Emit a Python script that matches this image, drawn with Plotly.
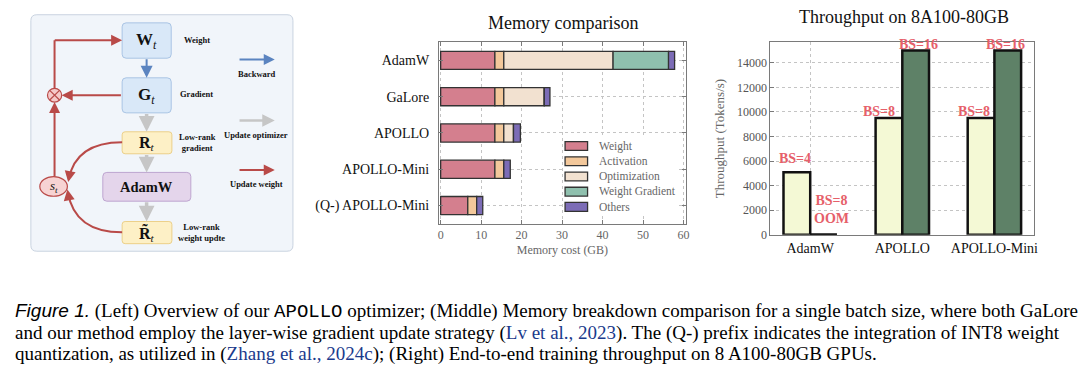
import numpy as np
import plotly.graph_objects as go

W, H = 1079, 375

# ---------------- data ----------------
methods = ["AdamW", "GaLore", "APOLLO", "APOLLO-Mini", "(Q-) APOLLO-Mini"]
mem_components = ["Weight", "Activation", "Optimization", "Weight Gradient", "Others"]
weight_gb = [13.4, 13.4, 13.4, 13.4, 6.7]
activation_gb = [2.2, 2.2, 2.2, 2.2, 2.2]
optimization_gb = [27.0, 10.0, 2.4, 0.0, 0.0]
weight_grad_gb = [13.7, 0.0, 0.0, 0.0, 0.0]
others_gb = [1.5, 1.4, 1.7, 1.6, 1.5]
mem_ticks = [0, 10, 20, 30, 40, 50, 60]

tp_methods = ["AdamW", "APOLLO", "APOLLO-Mini"]
tp_small_bs = [5100, 9500, 9500]
tp_large_bs = [0, 15000, 15000]
small_bs_labels = ["BS=4", "BS=8", "BS=8"]
large_bs_labels = ["BS=8<br>OOM", "BS=16", "BS=16"]
tp_ticks = [0, 2000, 4000, 6000, 8000, 10000, 12000, 14000]

# ---------------- styles ----------------
SERIF = "Liberation Serif"
mem_colors = ["#d47f8e", "#f3c89b", "#f2e1d0", "#8fc0ae", "#7c6cb6"]
RED = "#b94a48"
BLUE = "#5b84c0"
GRAY = "#c6c6c6"
LABEL_RED = "#e6606a"
LINK = "#1a3a8c"

shapes, annos = [], []


def px(x):
    return x / W


def py(y):
    return 1 - y / H


def rrect(x0, y0, x1, y1, r, fill, line, lw=1.0):
    p = (f"M{px(x0+r)},{py(y0)} L{px(x1-r)},{py(y0)} Q{px(x1)},{py(y0)} {px(x1)},{py(y0+r)} "
         f"L{px(x1)},{py(y1-r)} Q{px(x1)},{py(y1)} {px(x1-r)},{py(y1)} "
         f"L{px(x0+r)},{py(y1)} Q{px(x0)},{py(y1)} {px(x0)},{py(y1-r)} "
         f"L{px(x0)},{py(y0+r)} Q{px(x0)},{py(y0)} {px(x0+r)},{py(y0)} Z")
    shapes.append(dict(type="path", xref="paper", yref="paper", path=p,
                       fillcolor=fill, line=dict(color=line, width=lw)))


def seg(x0, y0, x1, y1, color, width):
    shapes.append(dict(type="line", xref="paper", yref="paper", x0=px(x0), y0=py(y0),
                       x1=px(x1), y1=py(y1), line=dict(color=color, width=width)))


def arrow(x0, y0, x1, y1, color, width=2.0, size=1.0, head=2):
    annos.append(dict(x=px(x1), y=py(y1), xref="paper", yref="paper", ax=x0 - x1, ay=y0 - y1,
                      axref="pixel", ayref="pixel", text="", showarrow=True, arrowhead=head,
                      arrowsize=size, arrowwidth=width, arrowcolor=color, standoff=0,
                      startstandoff=0))


def label(x, y, text, size, color="#111", family=SERIF, xanchor="center"):
    annos.append(dict(x=px(x), y=py(y), xref="paper", yref="paper", text=text, showarrow=False,
                      xanchor=xanchor, yanchor="middle", font=dict(size=size, color=color, family=family)))


# ---------------- left diagram ----------------
rrect(30, 15, 293.3, 256, 6, "#f1f5fa", "#c9d3e0", 1)
rrect(121.7, 23.3, 171, 59.3, 4, "#d9e8f8", "#a9c4e4")
rrect(121.7, 79.3, 171, 115, 4, "#d9e8f8", "#a9c4e4")
rrect(121.7, 134.3, 171.7, 156.7, 3, "#fdf0c6", "#ecd089")
rrect(102.3, 175.7, 190.7, 205, 4, "#e4d5eb", "#bea5d0")
rrect(121.7, 225.7, 171.7, 248.3, 3, "#fdf0c6", "#ecd089")

label(146.5, 42, "<b>W</b><sub><i>t</i></sub>", 17)
label(146.5, 98, "<b>G</b><sub><i>t</i></sub>", 17)
label(146.7, 146, "<b>R</b><sub><i>t</i></sub>", 16)
label(146.5, 190.5, "<b>AdamW</b>", 14.5)
label(146.7, 237.5, "<b>R\u0303</b><sub><i>t</i></sub>", 16)

arrow(146.3, 59.3, 146.3, 79.3, BLUE, 2, 1.2)
arrow(146.3, 115, 146.3, 134.3, GRAY, 3.5, 0.9)
arrow(146.3, 156.7, 146.3, 175.7, GRAY, 3.5, 0.9)
arrow(146.3, 205, 146.3, 225.7, GRAY, 3.5, 0.9)

# red feedback path
arrow(121.7, 97, 61, 97, RED, 2, 1.1)
seg(53.8, 90, 53.8, 41, RED, 2)
arrow(52.8, 41, 121.7, 41, RED, 2, 1.1)
arrow(53.8, 180, 53.8, 104, RED, 2, 1.1)
shapes.append(dict(type="circle", xref="paper", yref="paper", x0=px(46.7), x1=px(61),
                   y0=py(104), y1=py(90), fillcolor="#f5c9c9", line=dict(color=RED, width=1.2)))
seg(48.9, 92.05, 58.8, 101.95, RED, 1.2)
seg(48.9, 101.95, 58.8, 92.05, RED, 1.2)
shapes.append(dict(type="circle", xref="paper", yref="paper", x0=px(39), x1=px(66.7),
                   y0=py(200), y1=py(180), fillcolor="#f7d3d3", line=dict(color=RED, width=1.2)))
label(52.8, 190, "<i>s</i><sub><i>t</i></sub>", 13)

shapes.append(dict(type="path", xref="paper", yref="paper",
                   path=f"M{px(121.7)},{py(145)} Q{px(75)},{py(145)} {px(68)},{py(183)}",
                   line=dict(color=RED, width=2)))
arrow(67.5 + 0.182 * 9, 185.5 - 0.983 * 9, 67.5, 185.5, RED, 2, 1.1)
shapes.append(dict(type="path", xref="paper", yref="paper",
                   path=f"M{px(121.7)},{py(236.7)} Q{px(74)},{py(236.7)} {px(67.2)},{py(196)}",
                   line=dict(color=RED, width=2)))
arrow(66.7 + 0.165 * 9, 193 + 0.986 * 9, 66.7, 193, RED, 2, 1.1)

label(196.7, 40.7, "<b>Weight</b>", 8.5)
label(196.7, 96, "<b>Gradient</b>", 8.5)
label(197, 145, "<b>Low-rank<br>gradient</b>", 8.5)
label(201.7, 237.2, "<b>Low-rank<br>weight updte</b>", 8.5)

arrow(238.3, 60.7, 275, 60.7, BLUE, 2, 1.1)
label(256.7, 75, "<b>Backward</b>", 8.5)
arrow(238.3, 122.7, 275, 122.7, GRAY, 2.5, 1.0)
label(256.5, 137.3, "<b>Update optimizer</b>", 8.5)
arrow(238.3, 173.3, 275, 173.3, RED, 2, 1.1)
label(256.5, 187.7, "<b>Update weight</b>", 8.5)

# ---------------- middle: memory comparison ----------------
fig = go.Figure()
mem_series = [weight_gb, activation_gb, optimization_gb, weight_grad_gb, others_gb]
cum = np.zeros(len(methods))
for name, vals, color in zip(mem_components, mem_series, mem_colors):
    vals = np.array(vals, dtype=float)
    fig.add_trace(go.Bar(y=methods, x=vals, base=cum.copy(), orientation="h", width=0.5, offset=-0.25,
                         name=name, marker=dict(color=color, line=dict(color="#333", width=1.3)),
                         xaxis="x", yaxis="y", showlegend=False))
    cum += vals

# manual legend (matplotlib-like compact)
shapes.append(dict(type="rect", xref="paper", yref="paper", x0=px(565), x1=px(681), y0=py(219), y1=py(139),
                   fillcolor="white", line=dict(width=0), layer="above"))
for i, (name, color) in enumerate(zip(mem_components, mem_colors)):
    yc = 148.8 + i * 15.5
    shapes.append(dict(type="rect", xref="paper", yref="paper", x0=px(566.7), x1=px(589.3),
                       y0=py(yc + 4.5), y1=py(yc - 4.5), fillcolor=color,
                       line=dict(color="#333", width=1.3), layer="above"))
    label(598.3, yc, name, 11.5, color="#666", xanchor="left")

label(565, 23.7, "Memory comparison", 18)

# ---------------- right: throughput ----------------
BW = 0.29
fig.add_trace(go.Bar(x=tp_methods, y=tp_small_bs, width=BW, offset=-BW, xaxis="x2", yaxis="y2",
                     marker=dict(color="#f4f9d5", line=dict(color="#111", width=2.5)), showlegend=False))
fig.add_trace(go.Bar(x=tp_methods, y=tp_large_bs, width=BW, offset=0, xaxis="x2", yaxis="y2",
                     marker=dict(color="#5e8167", line=dict(color="#111", width=2.5)), showlegend=False))
for i, v in enumerate(tp_large_bs):
    if v == 0:
        shapes.append(dict(type="line", xref="x2", yref="y2", x0=i, x1=i + BW, y0=v, y1=v,
                           line=dict(color="#111", width=2.5)))

small_shift = [(-2, 4), (-10, -2.5), (-7, -2.5)]
large_shift = [(8.4, 6.5), (3, -3), (-2, -3)]
for i in range(len(tp_methods)):
    for vals, texts, shifts, off in ((tp_small_bs, small_bs_labels, small_shift, -BW / 2),
                                     (tp_large_bs, large_bs_labels, large_shift, BW / 2)):
        annos.append(dict(x=i + off, y=vals[i], xref="x2", yref="y2", text=f"<b>{texts[i]}</b>",
                          showarrow=False, xanchor="center", yanchor="bottom",
                          xshift=shifts[i][0], yshift=shifts[i][1],
                          font=dict(size=14, color=LABEL_RED, family=SERIF)))

label(907, 17.5, "Throughput on 8A100-80GB", 18)

# ---------------- caption ----------------
CAP = 19
link = lambda s: f'<span style="color:{LINK}">{s}</span>'
l1 = ('<span style="font-family:Liberation Sans"><i>Figure 1.</i></span> (Left) Overview of our '
      '<span style="font-family:Liberation Mono">APOLLO</span> optimizer; '
      '(Middle) Memory breakdown comparison for a single batch size, where both GaLore')
l2 = (f"and our method employ the layer-wise gradient update strategy ({link('Lv et al., 2023')}). "
      "The (Q-) prefix indicates the integration of INT8 weight")
l3 = (f"quantization, as utilized in ({link('Zhang et al., 2024c')}); (Right) End-to-end training "
      "throughput on 8 A100-80GB GPUs.")
label(12, 317.5, l1, CAP, color="#000", xanchor="left")
label(12, 339.5, l2, CAP, color="#000", xanchor="left")
label(12, 361, l3, CAP, color="#000", xanchor="left")

grid = dict(showgrid=True, gridcolor="#c4c4c4", griddash="dot", gridwidth=0.8, zeroline=False,
            showline=True, linecolor="#7a7a7a", linewidth=1)

fig.update_layout(
    width=W, height=H, margin=dict(l=0, r=0, t=0, b=0),
    paper_bgcolor="white", plot_bgcolor="white", barmode="overlay", showlegend=False,
    font=dict(family=SERIF, color="#111"),
    shapes=shapes, annotations=annos,
    xaxis=dict(domain=[440 / W, 688 / W], anchor="y", range=[-0.42, 60.57], tickvals=mem_ticks,
               ticks="inside", ticklen=4, tickcolor="#7a7a7a", mirror="ticks",
               tickfont=dict(size=12, color="#666"),
               title=dict(text="Memory cost (GB)", font=dict(size=12, color="#666"), standoff=4), **grid),
    yaxis=dict(domain=[1 - 228 / H, 1 - 43 / H], anchor="x", type="category", categoryorder="array",
               categoryarray=methods, range=[4.5, -0.5], ticks="inside", ticklen=4, tickcolor="#7a7a7a",
               mirror="ticks", tickfont=dict(size=14, color="#111"), ticklabelstandoff=6, **grid),
    xaxis2=dict(domain=[773 / W, 1038 / W], anchor="y2", type="category", range=[-0.432, 2.432],
                ticks="", mirror=True, tickfont=dict(size=14, color="#111"), **grid),
    yaxis2=dict(domain=[1 - 239.3 / H, 1 - 43 / H], anchor="x2", range=[0, 15680], tickvals=tp_ticks,
                tickformat="d", ticks="inside", ticklen=4, tickcolor="#7a7a7a", mirror=True,
                tickfont=dict(size=12, color="#555"),
                title=dict(text="Throughput (Tokens/s)", font=dict(size=13, color="#666"), standoff=9),
                **grid),
)

fig.write_html("out.html", config={"displayModeBar": False},
               post_script="document.body.style.margin='0';document.body.style.overflow='hidden';")
